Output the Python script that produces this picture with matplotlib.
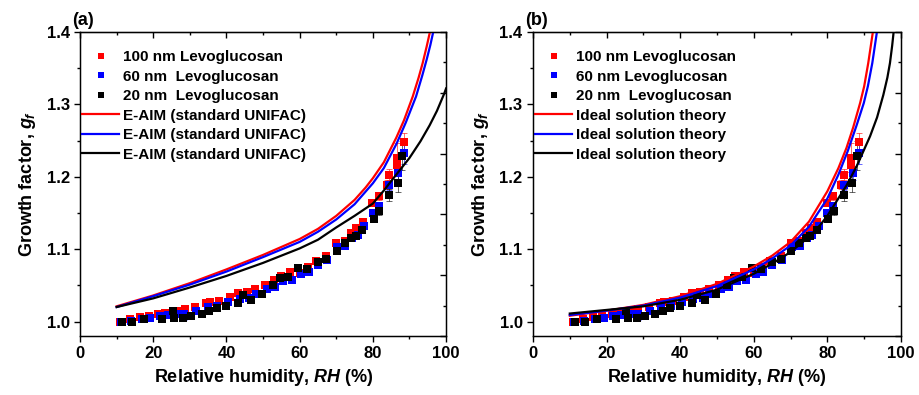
import numpy as np
import matplotlib
matplotlib.use('Agg')
import matplotlib.pyplot as plt
from matplotlib.ticker import MultipleLocator

plt.rcParams['font.family'] = 'Liberation Sans'
plt.rcParams['font.weight'] = 'bold'
plt.rcParams['mathtext.fontset'] = 'custom'
plt.rcParams['mathtext.rm'] = 'Liberation Sans:bold'
plt.rcParams['mathtext.it'] = 'Liberation Sans:bold:italic'
plt.rcParams['mathtext.bf'] = 'Liberation Sans:bold'

# Measured growth factors (same data on both panels)
rh_100 = [10.9, 13.6, 16.4, 18.8, 21.4, 23.2, 26.4, 28.6, 31.4, 34.5, 35.5, 38.0,
          41.0, 43.2, 45.5, 47.7, 50.5, 52.9, 55.0, 57.3, 60.0, 62.3, 64.5, 67.3,
          70.0, 72.3, 74.1, 75.5, 77.3, 79.8, 81.6, 83.8, 84.4, 86.5, 86.5, 88.6]
gf_100 = [1.000, 1.003, 1.006, 1.007, 1.010, 1.012, 1.014, 1.017, 1.020, 1.026, 1.027, 1.028,
          1.034, 1.040, 1.041, 1.045, 1.050, 1.057, 1.063, 1.068, 1.067, 1.076, 1.083, 1.090,
          1.108, 1.111, 1.122, 1.129, 1.138, 1.164, 1.173, 1.189, 1.203, 1.216, 1.226, 1.248]
err_100 = [0.002, 0.002, 0.002, 0.002, 0.002, 0.002, 0.002, 0.002, 0.002, 0.002, 0.002, 0.002,
           0.002, 0.002, 0.002, 0.002, 0.002, 0.002, 0.002, 0.002, 0.002, 0.002, 0.002, 0.002,
           0.003, 0.003, 0.003, 0.003, 0.004, 0.004, 0.005, 0.006, 0.008, 0.010, 0.020, 0.012]

rh_60 = [11.2, 13.9, 16.8, 19.2, 21.8, 24.0, 26.8, 28.4, 31.8, 34.9, 37.5, 40.5,
         43.6, 46.2, 48.2, 51.0, 53.3, 55.4, 57.8, 60.5, 62.6, 65.0, 67.6, 70.3,
         72.5, 74.4, 75.8, 77.6, 80.0, 81.6, 84.5, 86.9, 88.5]
gf_60 = [1.000, 1.001, 1.003, 1.005, 1.007, 1.009, 1.011, 1.010, 1.015, 1.020, 1.022, 1.027,
         1.031, 1.033, 1.038, 1.045, 1.048, 1.056, 1.058, 1.066, 1.068, 1.078, 1.085, 1.103,
         1.105, 1.115, 1.120, 1.132, 1.150, 1.160, 1.188, 1.205, 1.233]
err_60 = [0.002, 0.002, 0.002, 0.002, 0.002, 0.002, 0.002, 0.008, 0.002, 0.002, 0.002, 0.002,
          0.002, 0.002, 0.002, 0.002, 0.002, 0.002, 0.002, 0.002, 0.002, 0.002, 0.002, 0.003,
          0.003, 0.003, 0.003, 0.004, 0.004, 0.005, 0.006, 0.010, 0.015]

rh_20 = [11.4, 14.1, 17.5, 22.5, 25.3, 25.8, 28.2, 30.4, 33.2, 35.2, 37.3, 40.0,
         43.2, 44.5, 46.8, 49.8, 52.7, 54.7, 56.8, 59.6, 62.0, 65.0, 67.3, 70.2,
         72.3, 74.1, 75.3, 77.1, 80.2, 81.8, 84.5, 86.8, 88.0]
gf_20 = [1.000, 1.000, 1.004, 1.004, 1.014, 1.005, 1.005, 1.007, 1.011, 1.014, 1.019, 1.022,
         1.025, 1.037, 1.030, 1.038, 1.050, 1.060, 1.062, 1.074, 1.073, 1.082, 1.086, 1.098,
         1.108, 1.115, 1.118, 1.127, 1.141, 1.152, 1.175, 1.191, 1.229]
err_20 = [0.002, 0.002, 0.002, 0.002, 0.002, 0.002, 0.002, 0.002, 0.002, 0.002, 0.002, 0.002,
          0.002, 0.002, 0.002, 0.002, 0.002, 0.002, 0.002, 0.002, 0.002, 0.002, 0.002, 0.003,
          0.003, 0.003, 0.003, 0.004, 0.004, 0.005, 0.008, 0.012, 0.020]

# E-AIM (standard UNIFAC) curves, panel (a)
eaim_rh_100 = [10, 20, 30, 40, 50, 60, 65, 70, 75, 78, 80, 83, 86.4, 88.5, 90.9, 92.5, 93.6, 94.7, 95.5, 95.8]
eaim_gf_100 = [1.021, 1.036, 1.053, 1.072, 1.092, 1.114, 1.128, 1.146, 1.168, 1.185, 1.198, 1.220,
               1.254, 1.278, 1.311, 1.337, 1.357, 1.380, 1.398, 1.41]
eaim_rh_60 = [10, 20, 30, 40, 50, 60, 65, 70, 75, 80, 83, 86.5, 89, 91.8, 93.5, 94.7, 95.7, 96.4, 96.7]
eaim_gf_60 = [1.020, 1.035, 1.051, 1.069, 1.089, 1.110, 1.124, 1.141, 1.162, 1.191, 1.212, 1.246,
              1.275, 1.311, 1.340, 1.362, 1.382, 1.398, 1.41]
eaim_rh_20 = [10, 20, 30, 40, 50, 60, 65, 70, 75, 80, 83, 86.4, 90, 93, 95.5, 97.5, 99.5, 100]
eaim_gf_20 = [1.020, 1.032, 1.047, 1.063, 1.081, 1.101, 1.113, 1.130, 1.146, 1.163, 1.181, 1.203,
              1.226, 1.249, 1.271, 1.291, 1.315, 1.322]

# Ideal solution theory curves, panel (b)
ideal_rh_100 = [10, 20, 30, 40, 50, 60, 65, 70, 75, 80, 83, 85.2, 87, 88.9, 90, 91.1, 92.3, 92.6]
ideal_gf_100 = [1.008, 1.015, 1.023, 1.035, 1.052, 1.076, 1.091, 1.110, 1.138, 1.180, 1.212, 1.240,
                1.268, 1.302, 1.325, 1.357, 1.398, 1.41]
ideal_rh_60 = [10, 20, 30, 40, 50, 60, 65, 70, 75, 80, 83, 85.5, 88, 89.9, 91.0, 92.2, 93.4, 93.7]
ideal_gf_60 = [1.009, 1.015, 1.022, 1.033, 1.049, 1.072, 1.087, 1.105, 1.131, 1.170, 1.203, 1.235,
               1.272, 1.302, 1.325, 1.357, 1.398, 1.41]
ideal_rh_20 = [10, 20, 30, 40, 50, 60, 65, 70, 75, 78, 80, 85.2, 88, 91.6, 93.5, 95.2, 96.3, 97.0, 97.6, 98.0, 98.2]
ideal_gf_20 = [1.011, 1.016, 1.021, 1.030, 1.044, 1.066, 1.080, 1.096, 1.117, 1.133, 1.146, 1.188,
               1.215, 1.256, 1.282, 1.313, 1.337, 1.357, 1.381, 1.400, 1.41]

colors = ['#ff0000', '#0000ff', '#000000']
size_labels_a = ['100 nm Levoglucosan', '60 nm  Levoglucosan', '20 nm  Levoglucosan']
size_labels_b = ['100 nm Levoglucosan', '60 nm Levoglucosan', '20 nm  Levoglucosan']

fig = plt.figure(figsize=(9.19, 3.95), dpi=100)
ax_a = fig.add_axes([0.0871, 0.1494, 0.3983, 0.7696])
ax_b = fig.add_axes([0.5800, 0.1494, 0.4004, 0.7696])

data = [(rh_100, gf_100, err_100), (rh_60, gf_60, err_60), (rh_20, gf_20, err_20)]


def draw_panel(ax, curves, curve_label, size_labels, tag):
    handles = []
    for (rh, gf, err), c, lab in zip(data, colors, size_labels):
        ax.errorbar(rh, gf, yerr=err, fmt='none', ecolor=c, elinewidth=0.7,
                    capsize=2.5, capthick=0.7, alpha=0.6, zorder=2)
        h, = ax.plot(rh, gf, 's', color=c, ms=6, mew=0, label=lab, zorder=3)
        handles.append(h)
    for (rh, gf), c in zip(curves, colors):
        h, = ax.plot(rh, gf, '-', color=c, lw=1.6, label=curve_label, zorder=4)
        handles.append(h)

    ax.set_xlim(0, 100)
    ax.set_ylim(0.98, 1.4)
    ax.xaxis.set_major_locator(MultipleLocator(20))
    ax.xaxis.set_minor_locator(MultipleLocator(10))
    ax.yaxis.set_minor_locator(MultipleLocator(0.05))
    ax.set_yticks([1.0, 1.1, 1.2, 1.3, 1.4])
    ax.yaxis.set_major_formatter(plt.FormatStrFormatter('%.1f'))
    ax.tick_params(which='major', direction='out', length=4, width=1, labelsize=12)
    ax.tick_params(which='minor', direction='out', length=2.5, width=1)
    for sp in ax.spines.values():
        sp.set_linewidth(1)

    # mirrored ticks, pointing inward
    top = ax.secondary_xaxis('top')
    top.xaxis.set_major_locator(MultipleLocator(20))
    top.xaxis.set_minor_locator(MultipleLocator(10))
    top.tick_params(which='major', direction='in', length=4, width=1, labeltop=False)
    top.tick_params(which='minor', direction='in', length=2.5, width=1)
    right = ax.twinx()
    right.set_ylim(0, 1)
    right.yaxis.set_major_locator(MultipleLocator(0.2))
    right.yaxis.set_minor_locator(MultipleLocator(0.1))
    right.tick_params(which='major', direction='in', length=4, width=1, labelright=False)
    right.tick_params(which='minor', direction='in', length=2.5, width=1)

    ax.set_xlabel('Relative humidity, $RH$ (%)', fontsize=13, fontweight='bold', labelpad=4)
    ax.set_ylabel('Growth factor, $g_f$', fontsize=13, fontweight='bold', labelpad=6)
    ax.text(-0.022, 1.01, tag, transform=ax.transAxes, fontsize=13, fontweight='bold',
            ha='left', va='bottom')

    ax.legend(handles=handles, loc='upper left', bbox_to_anchor=(0.005, 0.94),
              frameon=False, fontsize=11, handlelength=2.45, handletextpad=0.25,
              labelspacing=0.36, borderpad=0, borderaxespad=0, markerscale=0.8)


draw_panel(ax_a, [(eaim_rh_100, eaim_gf_100), (eaim_rh_60, eaim_gf_60), (eaim_rh_20, eaim_gf_20)],
           'E-AIM (standard UNIFAC)', size_labels_a, '(a)')
draw_panel(ax_b, [(ideal_rh_100, ideal_gf_100), (ideal_rh_60, ideal_gf_60), (ideal_rh_20, ideal_gf_20)],
           'Ideal solution theory', size_labels_b, '(b)')

fig.savefig('out.png', dpi=100)
